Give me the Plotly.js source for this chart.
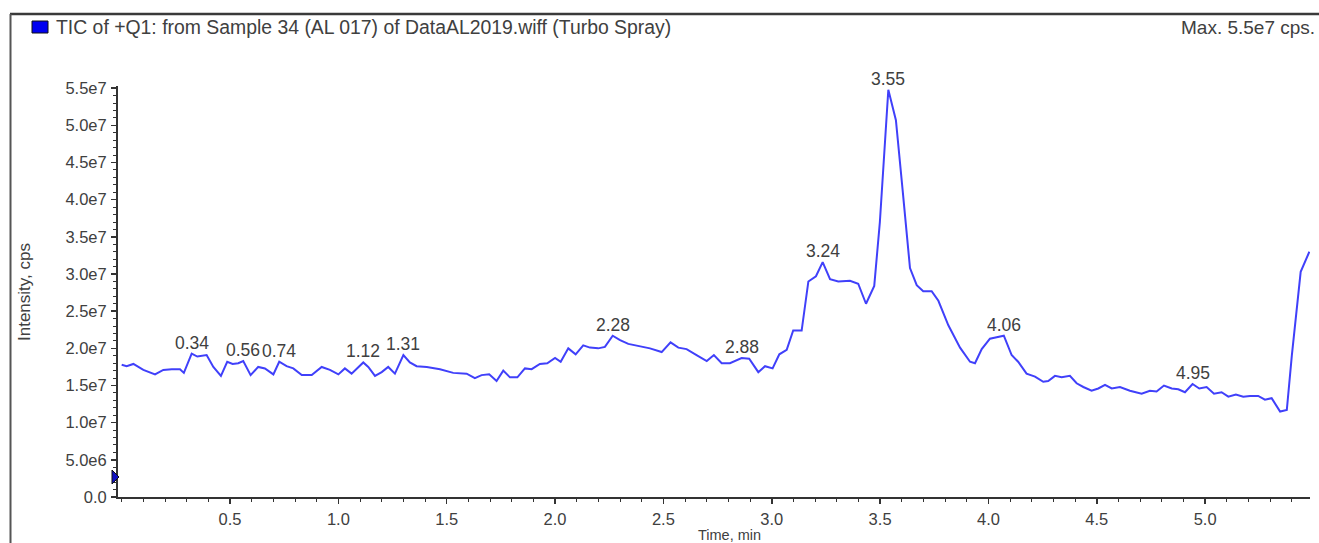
<!DOCTYPE html>
<html>
<head>
<meta charset="utf-8">
<script src="https://cdn.plot.ly/plotly-3.0.1.min.js"></script>
<style>html,body{margin:0;padding:0;background:#fff;}#chart{width:1319px;height:543px;}</style>
</head>
<body>
<div id="chart"></div>
<script>
// ---- data ----
const timeMin = [0.000,0.023,0.054,0.100,0.154,0.192,0.231,0.269,0.287,0.323,0.349,0.369,0.392,0.423,0.458,0.487,0.512,0.538,0.561,0.595,0.630,0.661,0.700,0.727,0.761,0.792,0.831,0.877,0.923,0.961,1.000,1.030,1.061,1.115,1.138,1.169,1.200,1.230,1.261,1.300,1.330,1.361,1.408,1.469,1.530,1.592,1.630,1.661,1.696,1.730,1.761,1.792,1.826,1.861,1.892,1.930,1.964,2.000,2.026,2.061,2.095,2.130,2.161,2.199,2.230,2.266,2.300,2.338,2.384,2.438,2.492,2.533,2.569,2.607,2.653,2.700,2.733,2.769,2.807,2.861,2.896,2.938,2.969,3.004,3.035,3.069,3.099,3.138,3.169,3.204,3.235,3.269,3.307,3.361,3.399,3.435,3.473,3.499,3.538,3.573,3.604,3.638,3.669,3.699,3.738,3.769,3.815,3.869,3.915,3.938,3.969,4.007,4.038,4.071,4.107,4.137,4.176,4.215,4.253,4.276,4.307,4.338,4.376,4.407,4.438,4.476,4.507,4.538,4.569,4.607,4.653,4.707,4.745,4.776,4.810,4.846,4.876,4.907,4.942,4.973,5.007,5.041,5.076,5.107,5.142,5.176,5.207,5.245,5.276,5.307,5.346,5.377,5.400,5.441,5.481];
const intensityCps = [1.78e7,1.76e7,1.79e7,1.71e7,1.65e7,1.71e7,1.72e7,1.72e7,1.67e7,1.93e7,1.89e7,1.90e7,1.91e7,1.75e7,1.63e7,1.82e7,1.79e7,1.80e7,1.83e7,1.64e7,1.75e7,1.73e7,1.65e7,1.82e7,1.76e7,1.73e7,1.64e7,1.64e7,1.75e7,1.71e7,1.65e7,1.73e7,1.66e7,1.81e7,1.75e7,1.63e7,1.68e7,1.75e7,1.66e7,1.91e7,1.81e7,1.76e7,1.75e7,1.72e7,1.67e7,1.66e7,1.60e7,1.64e7,1.65e7,1.56e7,1.70e7,1.61e7,1.61e7,1.73e7,1.72e7,1.79e7,1.80e7,1.87e7,1.82e7,2.00e7,1.92e7,2.04e7,2.01e7,2.00e7,2.02e7,2.17e7,2.11e7,2.06e7,2.03e7,2.00e7,1.95e7,2.08e7,2.01e7,1.99e7,1.91e7,1.83e7,1.91e7,1.80e7,1.80e7,1.87e7,1.86e7,1.68e7,1.76e7,1.73e7,1.92e7,1.98e7,2.24e7,2.24e7,2.90e7,2.97e7,3.16e7,2.93e7,2.90e7,2.91e7,2.87e7,2.60e7,2.84e7,3.70e7,5.48e7,5.07e7,4.13e7,3.08e7,2.85e7,2.77e7,2.77e7,2.64e7,2.31e7,2.01e7,1.82e7,1.80e7,1.99e7,2.13e7,2.15e7,2.17e7,1.91e7,1.82e7,1.66e7,1.62e7,1.55e7,1.56e7,1.63e7,1.61e7,1.63e7,1.53e7,1.48e7,1.43e7,1.46e7,1.51e7,1.46e7,1.48e7,1.43e7,1.39e7,1.43e7,1.42e7,1.50e7,1.46e7,1.45e7,1.41e7,1.52e7,1.46e7,1.48e7,1.39e7,1.41e7,1.35e7,1.38e7,1.35e7,1.36e7,1.36e7,1.31e7,1.33e7,1.15e7,1.17e7,1.90e7,3.03e7,3.30e7];
const peakLabels = ['0.34','0.56','0.74','1.12','1.31','2.28','2.88','3.24','3.55','4.06','4.95'];
const yTickVals = [0,5e6,1e7,1.5e7,2e7,2.5e7,3e7,3.5e7,4e7,4.5e7,5e7,5.5e7];
const yTickText = ['0.0','5.0e6','1.0e7','1.5e7','2.0e7','2.5e7','3.0e7','3.5e7','4.0e7','4.5e7','5.0e7','5.5e7'];
const xTickVals = [0.5,1.0,1.5,2.0,2.5,3.0,3.5,4.0,4.5,5.0];
const xTickText = ['0.5','1.0','1.5','2.0','2.5','3.0','3.5','4.0','4.5','5.0'];
const titleText = 'TIC of +Q1: from Sample 34 (AL 017) of DataAL2019.wiff (Turbo Spray)';
const maxText = 'Max. 5.5e7 cps.';

// ---- layout helpers (pixel -> paper) ----
const W = 1319, H = 543, L = 118, R = 1310, T = 86, B = 497;
const px = v => (v - L) / (R - L);
const py = v => (B - v) / (B - T);
const FONT = 'Liberation Sans, Arial, sans-serif';
const TXT = '#404040';

// peak annotations: locate the local maximum near each labelled time
const peakAnns = peakLabels.map(lbl => {
  const t = parseFloat(lbl);
  let best = -1;
  timeMin.forEach((x, i) => {
    if (Math.abs(x - t) <= 0.03 && (best < 0 || intensityCps[i] > intensityCps[best])) best = i;
  });
  return {x: timeMin[best], y: intensityCps[best], xref: 'x', yref: 'y', text: lbl,
    showarrow: false, yanchor: 'bottom', xanchor: 'center', yshift: -1,
    font: {family: FONT, size: 17.5, color: TXT}};
});

const annotations = peakAnns.concat([
  {x: px(54), y: py(27), xref: 'paper', yref: 'paper', text: titleText, showarrow: false,
   xanchor: 'left', yanchor: 'middle', font: {family: FONT, size: 19.4, color: TXT}},
  {x: px(1317), y: py(27), xref: 'paper', yref: 'paper', text: maxText, showarrow: false,
   xanchor: 'right', yanchor: 'middle', font: {family: FONT, size: 19, color: TXT}},
  {x: px(24), y: py(292), xref: 'paper', yref: 'paper', text: 'Intensity, cps', showarrow: false,
   textangle: -90, xanchor: 'center', yanchor: 'middle', font: {family: FONT, size: 17, color: TXT}},
  {x: px(729), y: py(535), xref: 'paper', yref: 'paper', text: 'Time, min', showarrow: false,
   xanchor: 'center', yanchor: 'middle', font: {family: FONT, size: 14.5, color: TXT}}
]);

const shapes = [
  {type: 'line', xref: 'paper', yref: 'paper', x0: px(10), x1: px(1319), y0: py(14), y1: py(14),
   line: {color: '#3a3a3a', width: 2.5}},
  {type: 'line', xref: 'paper', yref: 'paper', x0: px(10.5), x1: px(10.5), y0: py(14), y1: py(543),
   line: {color: '#555', width: 2}},
  {type: 'rect', xref: 'paper', yref: 'paper', x0: px(32), x1: px(48), y0: py(21), y1: py(33),
   fillcolor: '#0000f0', line: {color: '#111', width: 1}},
  {type: 'path', xref: 'paper', yref: 'paper',
   path: `M ${px(112)} ${py(470)} L ${px(119)} ${py(477)} L ${px(112)} ${py(484)} Z`,
   fillcolor: '#1010c0', line: {color: '#111', width: 1}}
];

const trace = {
  x: timeMin, y: intensityCps, type: 'scatter', mode: 'lines',
  line: {color: '#4040fa', width: 2}, hoverinfo: 'x+y'
};

const layout = {
  width: W, height: H,
  margin: {l: L, r: W - R, t: T, b: H - B, pad: 0},
  paper_bgcolor: '#fff', plot_bgcolor: '#fff',
  showlegend: false,
  font: {family: FONT, size: 16, color: TXT},
  xaxis: {
    range: [-0.017, 5.484], showgrid: false, zeroline: false,
    showline: true, linecolor: '#333', linewidth: 2,
    tickmode: 'array', tickvals: xTickVals, ticktext: xTickText,
    ticks: 'outside', ticklen: 5, tickwidth: 1.5, tickcolor: '#333',
    ticklabelstandoff: 1,
    tickfont: {family: FONT, size: 16.5, color: TXT},
    minor: {tickmode: 'linear', tick0: 0, dtick: 0.1, ticks: 'outside', ticklen: 3, tickwidth: 1, tickcolor: '#333', showgrid: false}
  },
  yaxis: {
    range: [0, 5.53e7], showgrid: false, zeroline: false,
    showline: true, linecolor: '#333', linewidth: 2,
    tickmode: 'array', tickvals: yTickVals, ticktext: yTickText,
    ticks: 'outside', ticklen: 5, tickwidth: 1.5, tickcolor: '#333',
    ticklabelstandoff: 1,
    tickfont: {family: FONT, size: 16.5, color: TXT},
    minor: {tickmode: 'linear', tick0: 0, dtick: 1e6, ticks: 'outside', ticklen: 3, tickwidth: 1, tickcolor: '#333', showgrid: false}
  },
  annotations: annotations,
  shapes: shapes
};

Plotly.newPlot('chart', [trace], layout, {displayModeBar: false, staticPlot: true});
</script>
</body>
</html>
